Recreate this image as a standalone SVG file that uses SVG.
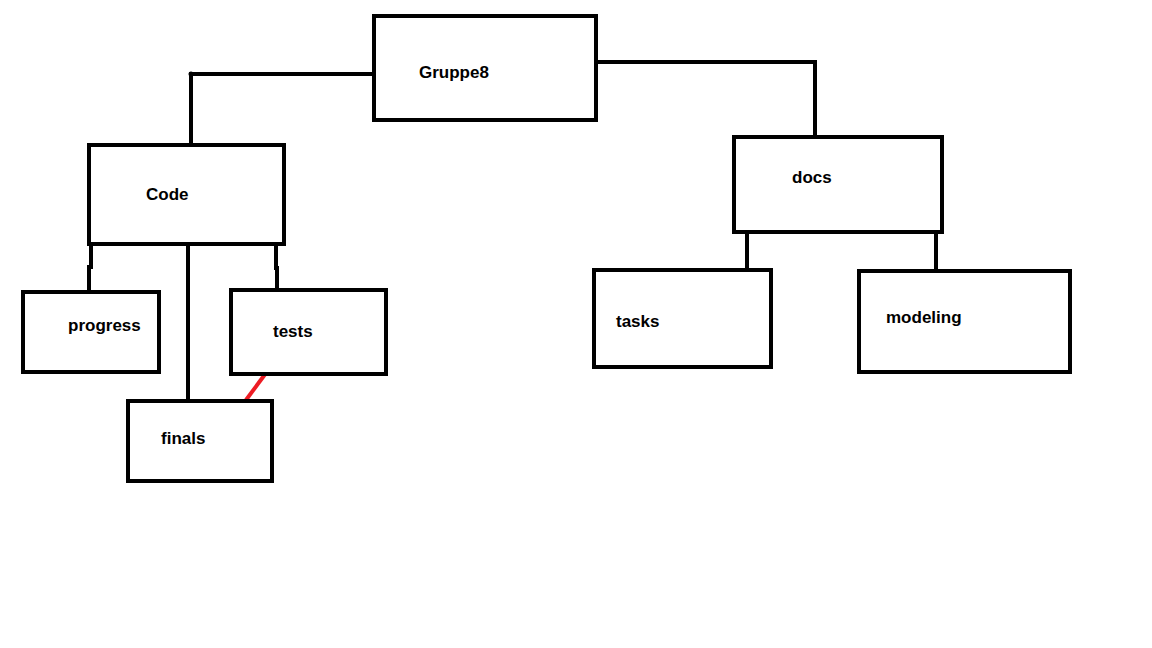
<svg xmlns="http://www.w3.org/2000/svg" width="1152" height="648" viewBox="0 0 1152 648">
<style>
.box{fill:#ffffff;stroke:#000000;stroke-width:4}
.lbl{font-family:"Liberation Sans",Arial,sans-serif;font-weight:bold;font-size:17px;fill:#000000}
.c{fill:none;stroke:#000000;stroke-width:4}
.r{fill:none;stroke:#ed1c24;stroke-width:4}
</style>
<rect width="1152" height="648" fill="#ffffff"/>
<g id="connectors">
<polyline class="c" points="373,74 191,74 191,145"/>
<circle cx="191" cy="74" r="2.5" fill="#000000"/>
<polyline class="c" points="596,62 815,62 815,137"/>
<polyline class="c" points="91,244 91,267 89,267 89,292"/>
<line class="c" x1="188" y1="244" x2="188" y2="401"/>
<polyline class="c" points="276,244 276,268 277,268 277,290"/>
<line class="r" x1="266" y1="373" x2="246" y2="400"/>
<line class="c" x1="747" y1="232" x2="747" y2="270"/>
<line class="c" x1="936" y1="232" x2="936" y2="271"/>
</g>
<g id="gruppe8">
<rect class="box" x="374" y="16" width="222" height="104"/>
<text class="lbl" x="419" y="78" font-size="18">Gruppe8</text>
</g>
<g id="code">
<rect class="box" x="89" y="145" width="195" height="99"/>
<text class="lbl" x="146" y="200" font-size="17.5">Code</text>
</g>
<g id="progress">
<rect class="box" x="23" y="292" width="136" height="80"/>
<text class="lbl" x="68" y="331" font-size="16.5">progress</text>
</g>
<g id="tests">
<rect class="box" x="231" y="290" width="155" height="84"/>
<text class="lbl" x="273" y="337" font-size="17.5">tests</text>
</g>
<g id="finals">
<rect class="box" x="128" y="401" width="144" height="80"/>
<text class="lbl" x="161" y="444">finals</text>
</g>
<g id="docs">
<rect class="box" x="734" y="137" width="208" height="95"/>
<text class="lbl" x="792" y="183" font-size="16.5">docs</text>
</g>
<g id="tasks">
<rect class="box" x="594" y="270" width="177" height="97"/>
<text class="lbl" x="616" y="327" font-size="17.5">tasks</text>
</g>
<g id="modeling">
<rect class="box" x="859" y="271" width="211" height="101"/>
<text class="lbl" x="886" y="323" font-size="16.8">modeling</text>
</g>
</svg>
